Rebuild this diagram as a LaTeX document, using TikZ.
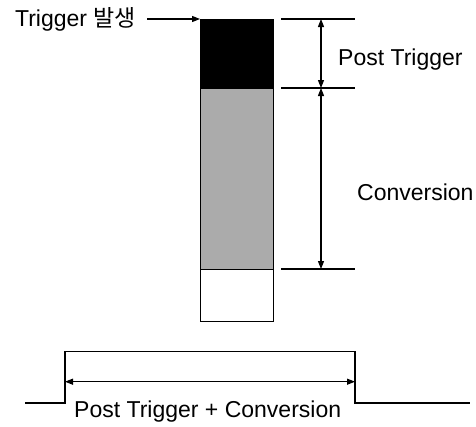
\documentclass[tikz,border=0pt]{standalone}
\usepackage{fontspec}
\setmainfont{Liberation Sans}
\newfontfamily\krfont{Noto Sans CJK KR}
\usetikzlibrary{arrows.meta}

\begin{document}
\begin{tikzpicture}[x=1pt,y=-1pt,
  every node/.style={font=\fontsize{23}{27}\selectfont, inner sep=0pt},
  line/.style={line width=1.1pt},
  seg/.style={draw, line width=1.1pt, minimum width=73pt, anchor=north west},
  lbl/.style={anchor=base west},
  tip/.style={-{Triangle[length=8pt,width=6pt]}},
  dtip/.style={{Triangle[length=8pt,width=6pt]}-{Triangle[length=8pt,width=6pt]}}
]
\useasboundingbox (0,0) rectangle (476,426);

% memory bar: post-trigger, conversion and free segments
\node[seg, fill=black, minimum height=69pt] (post) at (200,19) {};
\node[seg, fill=black!33, minimum height=181pt] (conv) at (200,88) {};
\node[seg, fill=white, minimum height=52pt] (rest) at (200,269) {};

% trigger marker
\node[anchor=base east] (trig) at (136,26.7) {Trigger {\krfont 발생}};
\coordinate (trigstart) at (147,19);
\draw[line, tip] (trigstart) -- (post.north west);

% extension lines to the right of the bar
\coordinate (e1) at (281,19);  \coordinate (f1) at (355,19);
\coordinate (e2) at (281,88);  \coordinate (f2) at (355,88);
\coordinate (e3) at (281,269); \coordinate (f3) at (355,269);
\draw[line] (e1) -- (f1);
\draw[line] (e2) -- (f2);
\draw[line] (e3) -- (f3);

% dimension arrows
\coordinate (d1) at (321,19);
\coordinate (d2) at (321,88);
\coordinate (d3) at (321,269);
\draw[line, dtip] (d1) -- (d2);
\draw[line, dtip] (d2) -- (d3);

\node[lbl] (lpost) at (338,65) {Post Trigger};
\node[lbl] (lconv) at (357,200) {Conversion};

% acquisition pulse
\coordinate (p0) at (25,403);
\coordinate (p1) at (65,403);
\coordinate (p2) at (65,351.5);
\coordinate (p3) at (355,351.5);
\coordinate (p4) at (355,403);
\coordinate (p5) at (470,403);
\draw[line] (p0) -- (p1) -- (p2) -- (p3) -- (p4) -- (p5);

\coordinate (w1) at (65,381.7);
\coordinate (w2) at (355,381.7);
\draw[line, dtip] (w1) -- (w2);

\node[lbl] (ltotal) at (74,417) {Post Trigger + Conversion};
\end{tikzpicture}
\end{document}
